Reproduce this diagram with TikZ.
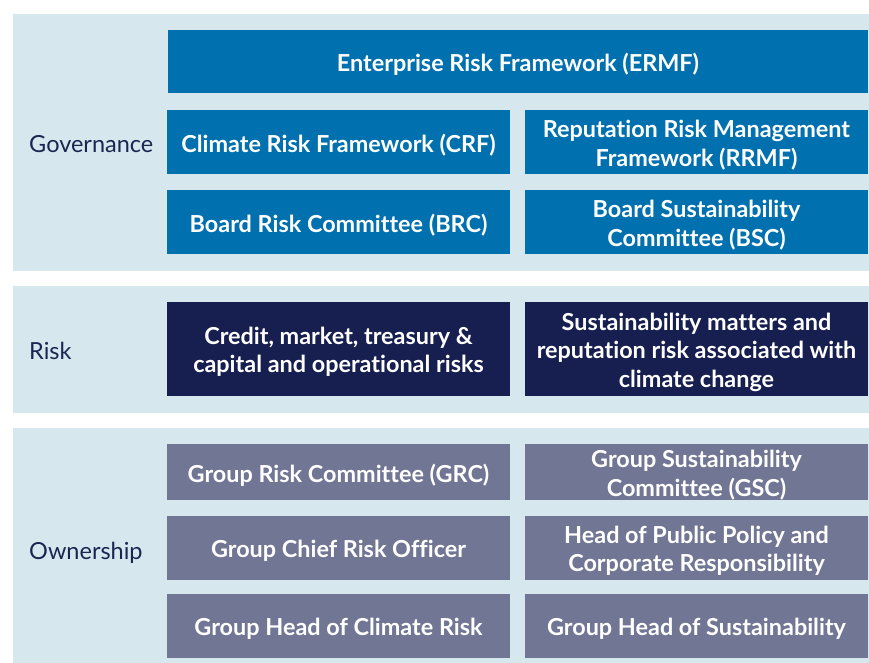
\documentclass[tikz,border=0pt]{standalone}
\usepackage{fontspec}
\setmainfont{Lato}[Ligatures=NoCommon]
\definecolor{panelbg}{HTML}{D6E8ED}
\definecolor{govblue}{HTML}{0070AF}
\definecolor{risknavy}{HTML}{171F50}
\definecolor{ownslate}{HTML}{717694}
\definecolor{labelnavy}{HTML}{1C2452}
\begin{document}
\begin{tikzpicture}[x=1pt,y=-1pt,
  panel/.style={fill=panelbg, inner sep=0pt, outer sep=0pt, anchor=north west},
  box/.style={inner sep=0pt, outer sep=0pt, anchor=north west},
  gov/.style={box, fill=govblue},
  rsk/.style={box, fill=risknavy},
  own/.style={box, fill=ownslate},
  boxtext/.style={inner sep=0pt, align=center, text=white,
    font=\bfseries\fontsize{23.4}{28.5}\selectfont},
  lbl/.style={anchor=west, inner sep=0pt, text=labelnavy, font=\fontsize{23.5}{28}\selectfont}
]
\useasboundingbox (0,0) rectangle (869,663);
% panels
\node[panel, minimum width=856pt, minimum height=257pt] (pgov) at (13,14) {};
\node[panel, minimum width=856pt, minimum height=127pt] (prisk) at (13,286) {};
\node[panel, minimum width=856pt, minimum height=235pt] (pown) at (13,428) {};
% labels
\node[lbl] (lgov) at (29,144) {Governance};
\node[lbl] (lrisk) at (29,351) {Risk};
\node[lbl] (lown) at (29,553) {Ownership};
% governance boxes
\node[gov, minimum width=700pt, minimum height=63pt] (ermf) at (168,30) {};
\node[gov, minimum width=343pt, minimum height=64pt] (crf) at (167,110) {};
\node[gov, minimum width=343pt, minimum height=64pt] (rrmf) at (525,110) {};
\node[gov, minimum width=343pt, minimum height=64pt] (brc) at (167,190) {};
\node[gov, minimum width=343pt, minimum height=64pt] (bsc) at (525,190) {};
% risk boxes
\node[rsk, minimum width=343pt, minimum height=94pt] (cmr) at (167,302) {};
\node[rsk, minimum width=343pt, minimum height=94pt] (smr) at (525,302) {};
% ownership boxes
\node[own, minimum width=343pt, minimum height=56pt] (grc) at (167,444) {};
\node[own, minimum width=343pt, minimum height=56pt] (gsc) at (525,444) {};
\node[own, minimum width=343pt, minimum height=64pt] (gcro) at (167,516) {};
\node[own, minimum width=343pt, minimum height=64pt] (hpp) at (525,516) {};
\node[own, minimum width=343pt, minimum height=64pt] (ghcr) at (167,594) {};
\node[own, minimum width=343pt, minimum height=64pt] (ghs) at (525,594) {};
% box texts
\node[boxtext] (ermf-t) at ([yshift=-3pt]ermf.center) {Enterprise Risk Framework (ERMF)};
\node[boxtext] (crf-t) at ([yshift=-3pt]crf.center) {Climate Risk Framework (CRF)};
\node[boxtext] (rrmf-t) at ([yshift=-3pt]rrmf.center) {Reputation Risk Management\\Framework (RRMF)};
\node[boxtext] (brc-t) at ([yshift=-3pt]brc.center) {Board Risk Committee (BRC)};
\node[boxtext] (bsc-t) at ([yshift=-3pt]bsc.center) {Board Sustainability\\Committee (BSC)};
\node[boxtext] (cmr-t) at ([yshift=-3pt]cmr.center) {Credit, market, treasury \&\\capital and operational risks};
\node[boxtext] (smr-t) at ([yshift=-3pt]smr.center) {Sustainability matters and\\reputation risk associated with\\climate change};
\node[boxtext] (grc-t) at ([yshift=-3pt]grc.center) {Group Risk Committee (GRC)};
\node[boxtext] (gsc-t) at ([yshift=-3pt]gsc.center) {Group Sustainability\\Committee (GSC)};
\node[boxtext] (gcro-t) at ([yshift=-3pt]gcro.center) {Group Chief Risk Officer};
\node[boxtext] (hpp-t) at ([yshift=-3pt]hpp.center) {Head of Public Policy and\\Corporate Responsibility};
\node[boxtext] (ghcr-t) at ([yshift=-3pt]ghcr.center) {Group Head of Climate Risk};
\node[boxtext] (ghs-t) at ([yshift=-3pt]ghs.center) {Group Head of Sustainability};
\end{tikzpicture}
\end{document}
